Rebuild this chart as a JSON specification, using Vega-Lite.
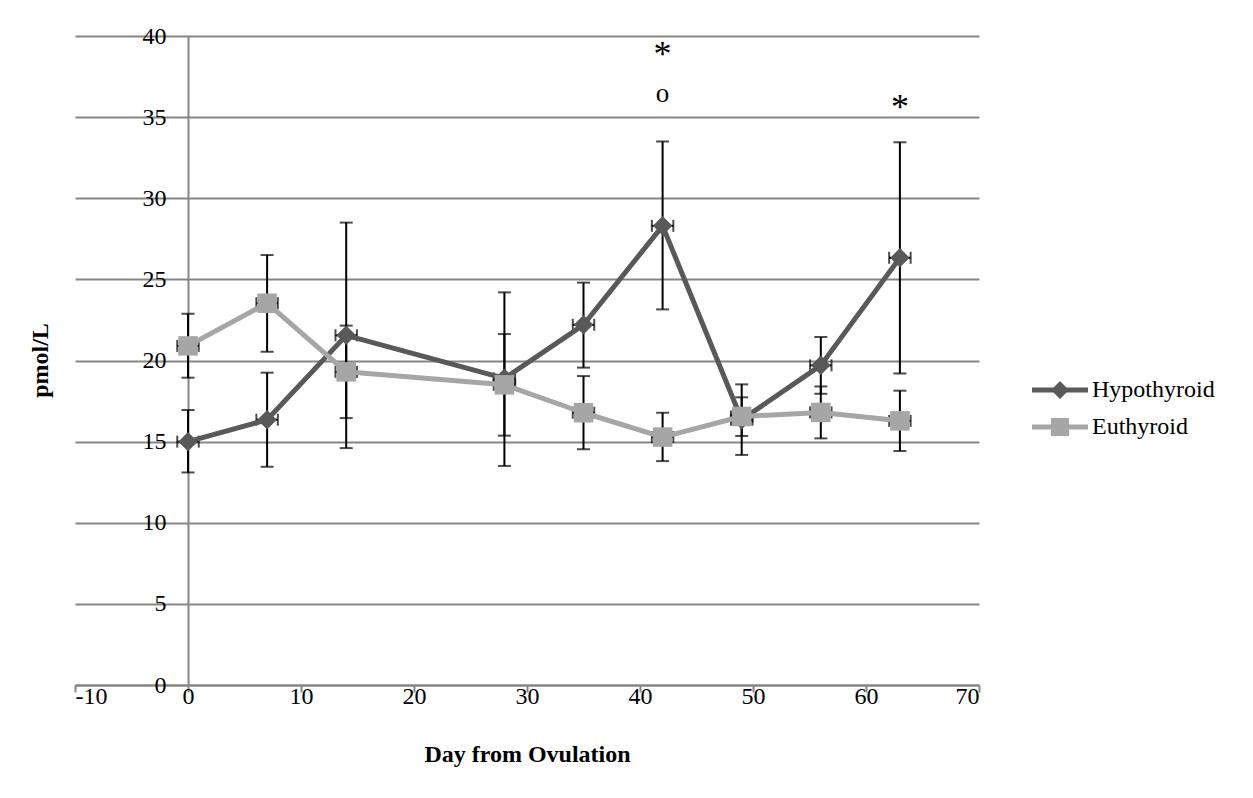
{
  "$schema": "https://vega.github.io/schema/vega-lite/v6.json",
  "width": 904,
  "height": 649,
  "autosize": {"type": "none"},
  "padding": {"left": 75, "top": 36, "right": 274, "bottom": 113},
  "background": "white",
  "config": {
    "view": {"stroke": null},
    "font": "Liberation Serif",
    "axisX": {
      "grid": false,
      "domainColor": "#868686",
      "domainWidth": 2,
      "tickColor": "#868686",
      "tickWidth": 2,
      "tickSize": 7,
      "labelFont": "Liberation Serif",
      "labelFontSize": 24,
      "labelColor": "black",
      "labelPadding": -8,
      "titleFont": "Liberation Serif",
      "titleFontSize": 24,
      "titleFontWeight": "bold",
      "titleColor": "black",
      "titlePadding": 34
    },
    "legend": {
      "title": null, "orient": "none", "legendX": 973, "legendY": 342, "padding": 0,
      "labelFont": "Liberation Serif", "labelFontSize": 24, "labelColor": "black",
      "labelOffset": 20, "rowPadding": 13, "symbolSize": 100, "symbolStrokeWidth": 0
    }
  },
  "datasets": {
    "series": [
      {"group": "Hypothyroid", "day": 0, "value": 15.0, "lo": 13.1, "hi": 16.95, "xlo": -0.95, "xhi": 0.95},
      {"group": "Hypothyroid", "day": 7, "value": 16.35, "lo": 13.45, "hi": 19.25, "xlo": 6.05, "xhi": 7.95},
      {"group": "Hypothyroid", "day": 14, "value": 21.55, "lo": 14.6, "hi": 28.5, "xlo": 13.05, "xhi": 14.95},
      {"group": "Hypothyroid", "day": 28, "value": 18.9, "lo": 13.5, "hi": 24.2, "xlo": 27.05, "xhi": 28.95},
      {"group": "Hypothyroid", "day": 35, "value": 22.2, "lo": 19.56, "hi": 24.8, "xlo": 34.05, "xhi": 35.95},
      {"group": "Hypothyroid", "day": 42, "value": 28.3, "lo": 23.15, "hi": 33.5, "xlo": 41.05, "xhi": 42.95},
      {"group": "Hypothyroid", "day": 49, "value": 16.35, "lo": 14.18, "hi": 18.53, "xlo": 48.05, "xhi": 49.95},
      {"group": "Hypothyroid", "day": 56, "value": 19.7, "lo": 17.95, "hi": 21.45, "xlo": 55.05, "xhi": 56.95},
      {"group": "Hypothyroid", "day": 63, "value": 26.33, "lo": 19.2, "hi": 33.45, "xlo": 62.05, "xhi": 63.95},
      {"group": "Euthyroid", "day": 0, "value": 20.9, "lo": 18.94, "hi": 22.88, "xlo": -0.95, "xhi": 0.95},
      {"group": "Euthyroid", "day": 7, "value": 23.53, "lo": 20.54, "hi": 26.5, "xlo": 6.05, "xhi": 7.95},
      {"group": "Euthyroid", "day": 14, "value": 19.3, "lo": 16.45, "hi": 22.15, "xlo": 13.05, "xhi": 14.95},
      {"group": "Euthyroid", "day": 28, "value": 18.5, "lo": 15.37, "hi": 21.63, "xlo": 27.05, "xhi": 28.95},
      {"group": "Euthyroid", "day": 35, "value": 16.78, "lo": 14.53, "hi": 19.04, "xlo": 34.05, "xhi": 35.95},
      {"group": "Euthyroid", "day": 42, "value": 15.28, "lo": 13.8, "hi": 16.78, "xlo": 41.05, "xhi": 42.95},
      {"group": "Euthyroid", "day": 49, "value": 16.55, "lo": 15.35, "hi": 17.73, "xlo": 48.05, "xhi": 49.95},
      {"group": "Euthyroid", "day": 56, "value": 16.8, "lo": 15.2, "hi": 18.4, "xlo": 55.05, "xhi": 56.95},
      {"group": "Euthyroid", "day": 63, "value": 16.28, "lo": 14.42, "hi": 18.14, "xlo": 62.05, "xhi": 63.95}
    ],
    "notes": [
      {"day": 42, "pos": 38.8, "label": "*", "size": "big"},
      {"day": 42, "pos": 36.43, "label": "o", "size": "small"},
      {"day": 63, "pos": 35.57, "label": "*", "size": "big"}
    ]
  },
  "data": {"name": "series"},
  "resolve": {"axis": {"y": "independent"}},
  "layer": [
    {
      "mark": {"type": "errorbar", "thickness": 2, "color": "black", "ticks": {"size": 13, "thickness": 2, "color": "black"}, "rule": {"color": "black", "strokeWidth": 2}},
      "encoding": {
        "x": {"field": "day", "type": "quantitative", "scale": {"domain": [-10, 70], "nice": false}, "title": "Day from Ovulation", "axis": {"values": [-10, 0, 10, 20, 30, 40, 50, 60, 70], "labelExpr": "datum.value < 0 ? '-' + abs(datum.value) : '' + datum.value"}},
        "y": {"field": "lo", "type": "quantitative", "scale": {"domain": [0, 40], "nice": false},
          "axis": {"orient": "left", "title": null, "labels": false, "ticks": false, "domain": false, "grid": true, "gridColor": "#868686", "gridWidth": 2, "values": [0, 5, 10, 15, 20, 25, 30, 35, 40]}},
        "y2": {"field": "hi"}
      }
    },
    {
      "mark": {"type": "errorbar", "thickness": 2, "color": "black", "ticks": {"size": 12, "thickness": 2, "color": "black"}, "rule": {"color": "black", "strokeWidth": 2}},
      "encoding": {
        "y": {"field": "value", "type": "quantitative", "scale": {"domain": [0, 40], "nice": false},
          "axis": {"orient": "left", "offset": -113, "grid": false, "domainColor": "#868686", "domainWidth": 2, "ticks": false,
            "labelFont": "Liberation Serif", "labelFontSize": 24, "labelColor": "black", "labelPadding": 22,
            "title": "pmol/L", "titleFont": "Liberation Serif", "titleFontSize": 24, "titleFontWeight": "bold", "titleColor": "black",
            "titleAngle": -90, "titleX": -148, "titleY": 324, "titleAlign": "center", "titleBaseline": "middle",
            "values": [0, 5, 10, 15, 20, 25, 30, 35, 40]}},
        "x": {"field": "xlo", "type": "quantitative", "scale": {"domain": [-10, 70], "nice": false}, "title": "Day from Ovulation", "axis": {"values": [-10, 0, 10, 20, 30, 40, 50, 60, 70], "labelExpr": "datum.value < 0 ? '-' + abs(datum.value) : '' + datum.value"}},
        "x2": {"field": "xhi"}
      }
    },
    {
      "mark": {"type": "line", "strokeWidth": 5, "strokeCap": "round", "strokeJoin": "round"},
      "encoding": {
        "x": {"field": "day", "type": "quantitative", "scale": {"domain": [-10, 70], "nice": false}, "title": "Day from Ovulation", "axis": {"values": [-10, 0, 10, 20, 30, 40, 50, 60, 70], "labelExpr": "datum.value < 0 ? '-' + abs(datum.value) : '' + datum.value"}},
        "y": {"field": "value", "type": "quantitative", "scale": {"domain": [0, 40], "nice": false}, "axis": null},
        "color": {
          "field": "group", "type": "nominal",
          "scale": {"domain": ["Hypothyroid", "Euthyroid"], "range": ["#595959", "#A6A6A6"]},
          "legend": {
            "encode": {"symbols": {"update": {
              "shape": {"signal": "datum.value === 'Hypothyroid' ? 'M-5.6,-0.5H5.6V0.5H-5.6Z M0,-1.8L1.8,0L0,1.8L-1.8,0Z' : 'M-5.6,-0.5H5.6V0.5H-5.6Z M-1.8,-1.8H1.8V1.8H-1.8Z'"},
              "fill": {"scale": "color", "field": "value"},
              "size": {"value": 100},
              "opacity": {"value": 1},
              "strokeWidth": {"value": 0}
            }}}
          }
        }
      }
    },
    {
      "transform": [{"filter": "datum.group === 'Hypothyroid'"}],
      "mark": {"type": "point", "filled": true, "opacity": 1, "size": 380, "shape": "diamond"},
      "encoding": {
        "x": {"field": "day", "type": "quantitative", "scale": {"domain": [-10, 70], "nice": false}, "title": "Day from Ovulation", "axis": {"values": [-10, 0, 10, 20, 30, 40, 50, 60, 70], "labelExpr": "datum.value < 0 ? '-' + abs(datum.value) : '' + datum.value"}},
        "y": {"field": "value", "type": "quantitative", "scale": {"domain": [0, 40], "nice": false}, "axis": null},
        "color": {"field": "group", "type": "nominal", "scale": {"domain": ["Hypothyroid", "Euthyroid"], "range": ["#595959", "#A6A6A6"]}}
      }
    },
    {
      "transform": [{"filter": "datum.group === 'Euthyroid'"}],
      "mark": {"type": "point", "filled": true, "opacity": 1, "size": 380, "shape": "square"},
      "encoding": {
        "x": {"field": "day", "type": "quantitative", "scale": {"domain": [-10, 70], "nice": false}, "title": "Day from Ovulation", "axis": {"values": [-10, 0, 10, 20, 30, 40, 50, 60, 70], "labelExpr": "datum.value < 0 ? '-' + abs(datum.value) : '' + datum.value"}},
        "y": {"field": "value", "type": "quantitative", "scale": {"domain": [0, 40], "nice": false}, "axis": null},
        "color": {"field": "group", "type": "nominal", "scale": {"domain": ["Hypothyroid", "Euthyroid"], "range": ["#595959", "#A6A6A6"]}}
      }
    },
    {
      "data": {"name": "notes"},
      "mark": {"type": "text", "font": "Liberation Serif", "color": "black", "baseline": "middle", "align": "center"},
      "encoding": {
        "x": {"field": "day", "type": "quantitative", "scale": {"domain": [-10, 70], "nice": false}, "title": "Day from Ovulation", "axis": {"values": [-10, 0, 10, 20, 30, 40, 50, 60, 70], "labelExpr": "datum.value < 0 ? '-' + abs(datum.value) : '' + datum.value"}},
        "y": {"field": "pos", "type": "quantitative", "scale": {"domain": [0, 40], "nice": false}, "axis": null},
        "text": {"field": "label"},
        "size": {"field": "size", "type": "nominal", "scale": {"domain": ["big", "small"], "range": [36, 27]}, "legend": null}
      }
    }
  ]
}
